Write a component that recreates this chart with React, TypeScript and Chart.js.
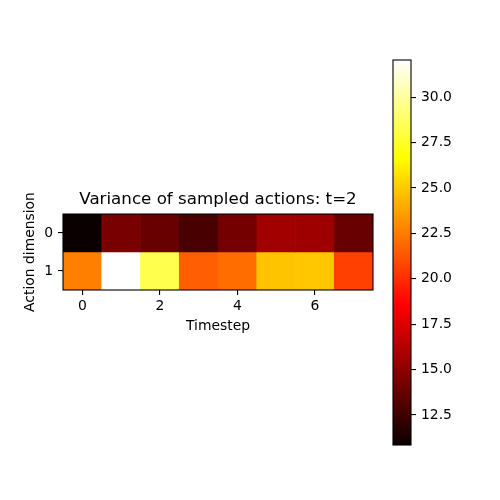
import React, { useEffect, useRef } from 'react';
import { Chart, registerables } from 'chart.js';
Chart.register(...registerables);

const timesteps = [0, 1, 2, 3, 4, 5, 6, 7];
const actionDims = [0, 1];
const row0Values = [10.85, 14.3, 13.8, 12.8, 14.2, 15.6, 15.5, 13.8];
const row1Values = [22.6, 32.04, 28.3, 21.6, 22.0, 24.8, 24.9, 20.6];
const xTickValues = [0, 2, 4, 6];
const yTickValues = [0, 1];
const colorbarTicks = [12.5, 15, 17.5, 20, 22.5, 25, 27.5, 30];
const vmin = 10.85;
const vmax = 32.04;
const titleText = 'Variance of sampled actions: t=2';

function hot(t: number): string {
  t = Math.max(0, Math.min(1, t));
  const a = 0.365079, b = 0.746032;
  const r = t < a ? 0.0416 + (1 - 0.0416) * (t / a) : 1;
  const g = t < a ? 0 : t < b ? (t - a) / (b - a) : 1;
  const bl = t < b ? 0 : (t - b) / (1 - b);
  return `rgb(${Math.round(r * 255)},${Math.round(g * 255)},${Math.round(bl * 255)})`;
}
const colorFor = (v: number) => hot((v - vmin) / (vmax - vmin));

const framePlugin = {
  id: 'frame',
  afterDraw(chart: any) {
    const { ctx, chartArea } = chart;
    if (!chartArea) return;
    ctx.save();
    ctx.strokeStyle = '#000';
    ctx.lineWidth = 1.1;
    ctx.strokeRect(chartArea.left, chartArea.top, chartArea.right - chartArea.left, chartArea.bottom - chartArea.top);
    ctx.restore();
  },
};

const FONT = 'DejaVu Sans';

export default function App() {
  const heatRef = useRef<HTMLCanvasElement | null>(null);
  const cbRef = useRef<HTMLCanvasElement | null>(null);

  useEffect(() => {
    Chart.defaults.font.family = FONT;
    Chart.defaults.color = '#000';
    const rows = [row0Values, row1Values];
    const heat = new Chart(heatRef.current!, {
      type: 'bar',
      data: {
        datasets: rows.map((vals, r) => ({
          label: 'row ' + actionDims[r],
          data: timesteps.map((t) => ({ x: t, y: [actionDims[r] - 0.5, actionDims[r] + 0.5] })) as any,
          backgroundColor: vals.map(colorFor),
          borderWidth: 0,
          barPercentage: 1,
          categoryPercentage: 1,
          grouped: false,
        })),
      },
      options: {
        responsive: false,
        animation: false,
        devicePixelRatio: 1,
        layout: { padding: { left: 14, right: 127, top: 190, bottom: 165 } },
        plugins: {
          legend: { display: false },
          tooltip: { enabled: false },
          title: {
            display: true,
            text: titleText,
            fullSize: false,
            font: { size: 16.7, weight: 'normal', family: FONT, lineHeight: 1.2 },
            padding: { top: 0, bottom: 4 },
            color: '#000',
          },
        },
        scales: {
          x: {
            type: 'linear',
            min: -0.5,
            max: 7.5,
            offset: false,
            afterBuildTicks: (s: any) => { s.ticks = xTickValues.map((v) => ({ value: v })); },
            afterFit: (s: any) => { s.height = 45; },
            ticks: { font: { size: 13.9, family: FONT }, padding: 3, color: '#000', callback: (v: any) => String(v), maxRotation: 0, autoSkip: false },
            grid: { offset: false, drawOnChartArea: false, drawTicks: true, tickLength: 5, color: '#000', lineWidth: 1.1 },
            border: { display: false },
            title: { display: true, text: 'Timestep', font: { size: 13.9, family: FONT }, padding: { top: 0, bottom: 0 }, color: '#000' },
          },
          y: {
            type: 'linear',
            min: -0.5,
            max: 1.5,
            reverse: true,
            afterBuildTicks: (s: any) => { s.ticks = yTickValues.map((v) => ({ value: v })); },
            afterFit: (s: any) => { s.width = 49; },
            ticks: { font: { size: 13.9, family: FONT }, padding: 5, color: '#000', callback: (v: any) => String(v), autoSkip: false },
            grid: { drawOnChartArea: false, drawTicks: true, tickLength: 5, color: '#000', lineWidth: 1.1 },
            border: { display: false },
            title: { display: true, text: 'Action dimension', font: { size: 13.9, family: FONT }, padding: { top: 8, bottom: 0 }, color: '#000' },
          },
        },
      } as any,
      plugins: [framePlugin],
    });

    const cb = new Chart(cbRef.current!, {
      type: 'bar',
      data: {
        labels: ['cb'],
        datasets: [{
          label: 'colorbar',
          data: [[vmin, vmax]] as any,
          backgroundColor: (ctx: any) => {
            const chart = ctx.chart;
            const ys = chart.scales?.y;
            if (!chart.chartArea || !ys) return '#000';
            const g = chart.ctx.createLinearGradient(0, ys.getPixelForValue(vmin), 0, ys.getPixelForValue(vmax));
            [0, 0.365079, 0.746032, 1].forEach((s) => g.addColorStop(s, hot(s)));
            return g;
          },
          borderWidth: 0,
          barPercentage: 1,
          categoryPercentage: 1,
        }],
      },
      options: {
        responsive: false,
        animation: false,
        devicePixelRatio: 1,
        layout: { padding: { left: 393, right: 39, top: 60, bottom: 55 } },
        plugins: { legend: { display: false }, tooltip: { enabled: false }, title: { display: false } },
        scales: {
          x: { display: false },
          y: {
            type: 'linear',
            position: 'right',
            min: vmin,
            max: vmax,
            afterBuildTicks: (s: any) => { s.ticks = colorbarTicks.map((v) => ({ value: v })); },
            afterFit: (s: any) => { s.width = 50; },
            ticks: { font: { size: 13.9, family: FONT }, padding: 5, color: '#000', callback: (v: any) => Number(v).toFixed(1), autoSkip: false },
            grid: { drawOnChartArea: false, drawTicks: true, tickLength: 5, color: '#000', lineWidth: 1.1 },
            border: { display: false },
          },
        },
      } as any,
      plugins: [framePlugin],
    });

    return () => { heat.destroy(); cb.destroy(); };
  }, []);

  return (
    <div style={{ position: 'absolute', left: 0, top: 0, width: 500, height: 500, background: '#fff' }}>
      <canvas ref={heatRef} width={500} height={500} style={{ position: 'absolute', left: 0, top: 0 }} />
      <canvas ref={cbRef} width={500} height={500} style={{ position: 'absolute', left: 0, top: 0 }} />
    </div>
  );
}
